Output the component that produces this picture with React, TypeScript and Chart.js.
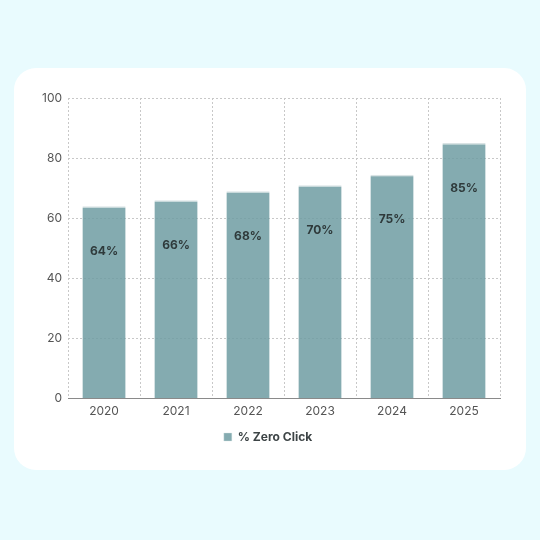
import React, { useEffect, useRef } from "react";
import { Chart, registerables } from "chart.js";

Chart.register(...registerables);

const years = ["2020", "2021", "2022", "2023", "2024", "2025"];
const zeroClick = [64, 66, 69, 71, 74.5, 85];
const valueLabels = ["64%", "66%", "68%", "70%", "75%", "85%"];

const barColor = "rgba(110, 156, 162, 0.85)";

const barLabels = {
  id: "barLabels",
  afterDatasetsDraw(chart: Chart) {
    const { ctx } = chart;
    const meta = chart.getDatasetMeta(0);
    ctx.save();
    ctx.font = "bold 12px Inter";
    ctx.fillStyle = "#2f3a3b";
    ctx.textAlign = "center";
    ctx.textBaseline = "middle";
    meta.data.forEach((bar: any, i: number) => {
      ctx.fillText(valueLabels[i], bar.x, bar.y + 45);
    });
    ctx.restore();
  },
};

const App: React.FC = () => {
  const chartRef = useRef<HTMLCanvasElement | null>(null);

  useEffect(() => {
    if (!chartRef.current) return;
    const chart = new Chart(chartRef.current, {
      type: "bar",
      data: {
        labels: years,
        datasets: [
          {
            label: "% Zero Click",
            data: zeroClick,
            backgroundColor: barColor,
            borderColor: "#d9e3e4",
            borderWidth: { top: 1.5, left: 0, right: 0, bottom: 0 },
            borderSkipped: false,
            categoryPercentage: 0.8,
            barPercentage: 0.75,
          },
        ],
      },
      options: {
        animation: false,
        responsive: false,
        maintainAspectRatio: false,
        layout: { padding: { top: 30, right: 26, left: 22, bottom: 17 } },
        plugins: {
          legend: {
            position: "bottom",
            labels: {
              boxWidth: 8,
              boxHeight: 8,
              padding: 6,
              color: "#3d4446",
              font: { family: "Inter", size: 12, weight: "bold" },
            },
          },
          tooltip: { enabled: false },
        },
        scales: {
          x: {
            grid: {
              offset: true,
              color: "#c8c8c8",
              tickLength: 0,
            },
            border: { dash: [2, 2], color: "#8a8a8a", width: 1 },
            ticks: {
              color: "#555",
              padding: 6,
              font: { family: "Inter", size: 12 },
            },
          },
          y: {
            min: 0,
            max: 100,
            grid: {
              color: "#c8c8c8",
              tickLength: 0,
            },
            border: { display: false, dash: [2, 2] },
            ticks: {
              stepSize: 20,
              color: "#555",
              padding: 6,
              font: { family: "Inter", size: 12 },
            },
          },
        },
      },
      plugins: [barLabels],
    });

    return () => {
      chart.destroy();
    };
  }, []);

  return (
    <div
      style={{
        position: "absolute",
        left: 0,
        top: 0,
        width: 540,
        height: 540,
        background: "#e9fbfe",
      }}
    >
      <div
        style={{
          position: "absolute",
          left: 14,
          top: 68,
          width: 512,
          height: 402,
          background: "#ffffff",
          borderRadius: 22,
        }}
      >
        <canvas ref={chartRef} width={512} height={402} style={{ width: 512, height: 402 }} />
      </div>
    </div>
  );
};

export default App;
